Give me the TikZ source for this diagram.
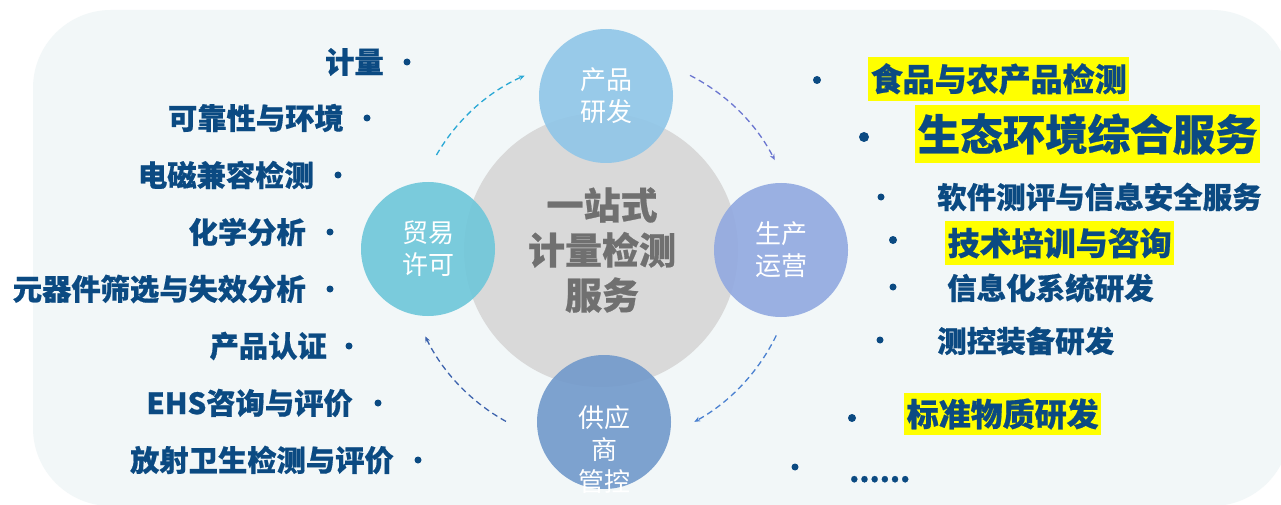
\documentclass[tikz,border=0pt]{standalone}
\usepackage{fontspec}
\newfontfamily\cjk{Noto Sans CJK SC}[BoldFeatures={FakeBold=0.6}]
\newfontfamily\cjkr{Noto Sans CJK SC}
\usetikzlibrary{arrows.meta}
\definecolor{bgc}{HTML}{F2F7F8}
\definecolor{tblue}{HTML}{0B4A82}
\definecolor{ctext}{HTML}{707070}
\definecolor{cgray}{HTML}{D9D9D9}
\definecolor{cyf}{HTML}{8FC6E8}
\definecolor{cmy}{HTML}{6EC7DA}
\definecolor{csc}{HTML}{91A9E0}
\definecolor{cgy}{HTML}{7199CB}
\definecolor{aone}{HTML}{2AA8D5}
\definecolor{atwo}{HTML}{6A75D0}
\definecolor{athree}{HTML}{4A80D0}
\definecolor{afour}{HTML}{3E64AE}
\definecolor{hl}{HTML}{FFFF00}
\tikzset{
  lt/.style={font=\cjk\bfseries\fontsize{29.3}{29}\selectfont, text=tblue, anchor=east, inner sep=0pt},
  rt/.style={font=\cjk\bfseries\fontsize{#1}{#1}\selectfont, text=tblue, anchor=west, inner sep=0pt},
  rth/.style={font=\cjk\bfseries\fontsize{#1}{#1}\selectfont, text=tblue, anchor=west, fill=hl, inner xsep=2.5pt, inner ysep=4pt},
  dotb/.style={circle, fill=tblue, inner sep=0pt, minimum size=#1},
  small/.style={circle, minimum size=134pt, inner sep=0pt, fill opacity=0.9, text opacity=1,
     font=\cjkr\fontsize{26}{32}\selectfont, text=white, align=center},
  arr/.style={dashed, dash pattern=on 6pt off 4pt, line width=1.3pt, -{Stealth[length=6pt,width=5pt]}}
}
\begin{document}
\begin{tikzpicture}[x=1pt,y=1pt]
\useasboundingbox (0,0) rectangle (1281,-505);
\fill[white] (0,0) rectangle (1281,-505);
\fill[bgc, rounded corners=78pt] (33,-10) rectangle (1290,-506);
% central circle
\node[circle, fill=cgray, minimum size=274pt, inner sep=0pt] (c) at (601,-250) {};
\node[font=\cjk\bfseries\fontsize{37}{45}\selectfont, text=ctext, align=center] (ct) at (602,-250) {一站式\\计量检测\\服务};
% small circles
\node[small, fill=cyf] (yf) at (606,-96) {产品\\研发};
\node[small, fill=cmy] (my) at (428,-249) {贸易\\许可};
\node[small, fill=csc] (sc) at (781,-250) {生产\\运营};
\node[small, fill=cgy] (gy) at (604,-422) {};
\node[font=\cjkr\fontsize{26}{32}\selectfont, text=white, align=center] (gyt) at (604,-450) {供应\\商\\管控};
% dashed arcs
\draw[arr, aone] (c.center) ++(150:190) arc[start angle=150, end angle=114, radius=192];
\draw[arr, atwo] (c.center) ++(63:196) arc[start angle=63, end angle=27, radius=194];
\draw[arr, athree] (c.center) ++(-26:195) arc[start angle=-26, end angle=-61, radius=198];
\draw[arr, afour] (c.center) ++(-119:196) arc[start angle=-119, end angle=-154, radius=195];
% left list
\node[lt] (l1) at (384,-62) {计量};
\node[dotb=7pt] (d1) at (407,-62) {};
\node[lt] (l2) at (344,-118) {可靠性与环境};
\node[dotb=7pt] (d2) at (367,-118) {};
\node[lt] (l3) at (314,-175) {电磁兼容检测};
\node[dotb=7pt] (d3) at (338,-175) {};
\node[lt] (l4) at (306,-232) {化学分析};
\node[dotb=7pt] (d4) at (330,-232) {};
\node[lt] (l5) at (306,-289) {元器件筛选与失效分析};
\node[dotb=7pt] (d5) at (330,-289) {};
\node[lt] (l6) at (327,-346) {产品认证};
\node[dotb=7pt] (d6) at (349,-346) {};
\node[lt] (l7) at (353,-403) {EHS咨询与评价};
\node[dotb=7pt] (d7) at (378,-403) {};
\node[lt] (l8) at (394,-460) {放射卫生检测与评价};
\node[dotb=7pt] (d8) at (418,-460) {};
% right list
\node[dotb=8pt] (r1d) at (817,-80) {};
\node[rth=32, minimum height=44pt] (r1) at (868,-79) {食品与农产品检测};
\node[dotb=10pt] (r2d) at (864,-137) {};
\node[rth=42.5, minimum height=58pt] (r2) at (915,-134) {生态环境综合服务};
\node[dotb=7pt] (r3d) at (881,-197) {};
\node[rt=29.5] (r3) at (937,-197) {软件测评与信息安全服务};
\node[dotb=8pt] (r4d) at (893,-240) {};
\node[rth=32, minimum height=44pt] (r4) at (945,-243) {技术培训与咨询};
\node[dotb=7pt] (r5d) at (893,-287) {};
\node[rt=29.5] (r5) at (947,-288) {信息化系统研发};
\node[dotb=7pt] (r6d) at (880,-340) {};
\node[rt=29.5] (r6) at (937,-341) {测控装备研发};
\node[dotb=8pt] (r7d) at (852,-418) {};
\node[rth=32, minimum height=42pt] (r7) at (904,-414) {标准物质研发};
\node[dotb=7pt] (r8d) at (795,-467) {};
\node[rt=29, anchor=base west] (r8) at (849,-482) {......};
\end{tikzpicture}
\end{document}
